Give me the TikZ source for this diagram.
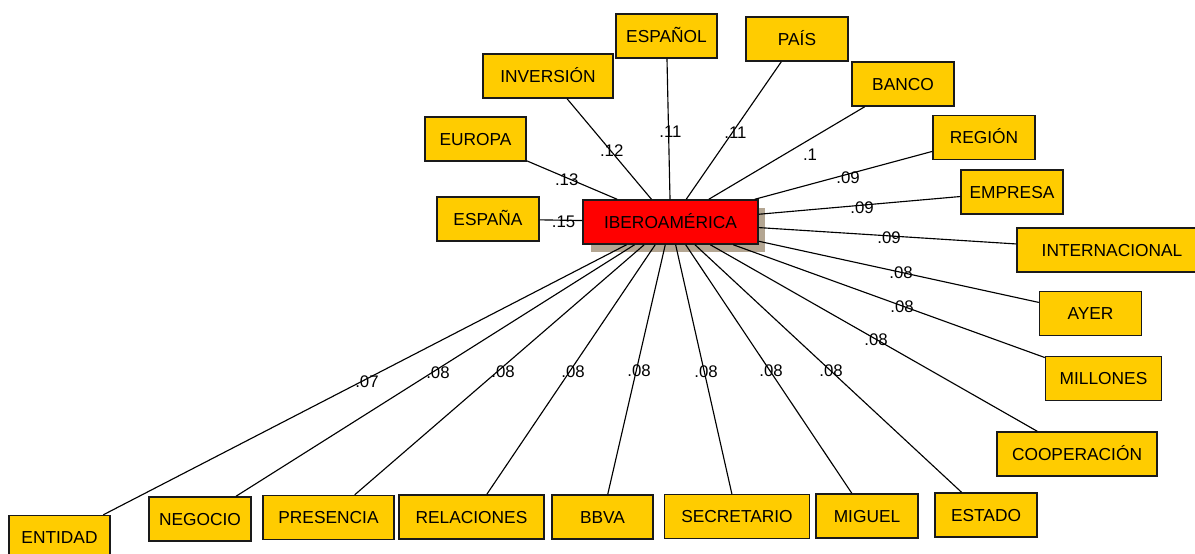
\documentclass[tikz,border=0pt]{standalone}
\usepackage{fontspec}
\setmainfont{Liberation Sans}
\definecolor{boxyellow}{HTML}{FFCC00}
\definecolor{boxred}{HTML}{FF0000}
\definecolor{shadowtan}{HTML}{B4A692}
\definecolor{edgeblack}{HTML}{1A1A1A}
\tikzset{
  wordbox/.style={draw=edgeblack, line width=1.1pt, fill=boxyellow, inner sep=0pt,
    minimum height=33pt, font=\fontsize{13pt}{15pt}\selectfont,
    text height=9.3pt, text depth=0pt, minimum width=#1*0.75pt},
  hubbox/.style={wordbox=#1, fill=boxred},
  link/.style={draw=black, line width=0.85pt},
  weight/.style={inner sep=0pt, font=\fontsize{12.6pt}{14pt}\selectfont, text height=9pt, text depth=0pt}
}
\begin{document}
\begin{tikzpicture}[x=0.75pt,y=-0.75pt]
\useasboundingbox (0,0) rectangle (1195,553);
\clip (0,0) rectangle (1195,553);
% shadow of hub
\fill[shadowtan] (591,207.5) rectangle (765,251.5);
% hub
\node[hubbox=175] (hub) at (670.5,222) {IBEROAMÉRICA};
% upper-left / upper
\node[wordbox=102] (espana) at (488,219) {ESPAÑA};
\node[wordbox=101] (europa) at (475.5,139) {EUROPA};
\node[wordbox=130] (inversion) at (548,76) {INVERSIÓN};
\node[wordbox=101] (espanol) at (666.5,36) {ESPAÑOL};
\node[wordbox=102] (pais) at (797,39) {PAÍS};
\node[wordbox=102] (banco) at (903,84) {BANCO};
% right
\node[wordbox=102] (region) at (984,137.5) {REGIÓN};
\node[wordbox=102] (empresa) at (1012,192) {EMPRESA};
\node[wordbox=190] (internacional) at (1112,250) {INTERNACIONAL};
\node[wordbox=102] (ayer) at (1090.5,313.7) {AYER};
\node[wordbox=116] (millones) at (1103.5,378.7) {MILLONES};
\node[wordbox=160] (cooperacion) at (1077,454) {COOPERACIÓN};
% bottom
\node[wordbox=102] (estado) at (986,515) {ESTADO};
\node[wordbox=102] (miguel) at (867,516) {MIGUEL};
\node[wordbox=145] (secretario) at (737,516.7) {SECRETARIO};
\node[wordbox=101] (bbva) at (602.5,517) {BBVA};
\node[wordbox=145] (relaciones) at (471.5,517) {RELACIONES};
\node[wordbox=131] (presencia) at (328.5,517.5) {PRESENCIA};
\node[wordbox=102] (negocio) at (200,519) {NEGOCIO};
\node[wordbox=101] (entidad) at (59.5,537.5) {ENTIDAD};
% connectors
\foreach \t in {espana,europa,inversion,espanol,pais,banco,region,empresa,
  internacional,ayer,millones,cooperacion,estado,miguel,secretario,bbva,
  relaciones,presencia,negocio,entidad}
  \draw[link] (hub) -- (\t);
% weights
\node[weight] (w1) at (563.5,221.5) {.15};
\node[weight] (w2) at (566.7,179) {.13};
\node[weight] (w3) at (611.7,150) {.12};
\node[weight] (w4) at (670.5,131) {.11};
\node[weight] (w5) at (735.5,132.5) {.11};
\node[weight] (w6) at (810,154) {.1};
\node[weight] (w7) at (848,177) {.09};
\node[weight] (w8) at (862,207) {.09};
\node[weight] (w9) at (889,237) {.09};
\node[weight] (w10) at (901,272) {.08};
\node[weight] (w11) at (902,306) {.08};
\node[weight] (w12) at (876,339) {.08};
\node[weight] (w13) at (367,381) {.07};
\node[weight] (w14) at (438,372) {.08};
\node[weight] (w15) at (503,371) {.08};
\node[weight] (w16) at (573,371) {.08};
\node[weight] (w17) at (639,370) {.08};
\node[weight] (w18) at (706,371) {.08};
\node[weight] (w19) at (771,370) {.08};
\node[weight] (w20) at (831,370) {.08};
\end{tikzpicture}
\end{document}
